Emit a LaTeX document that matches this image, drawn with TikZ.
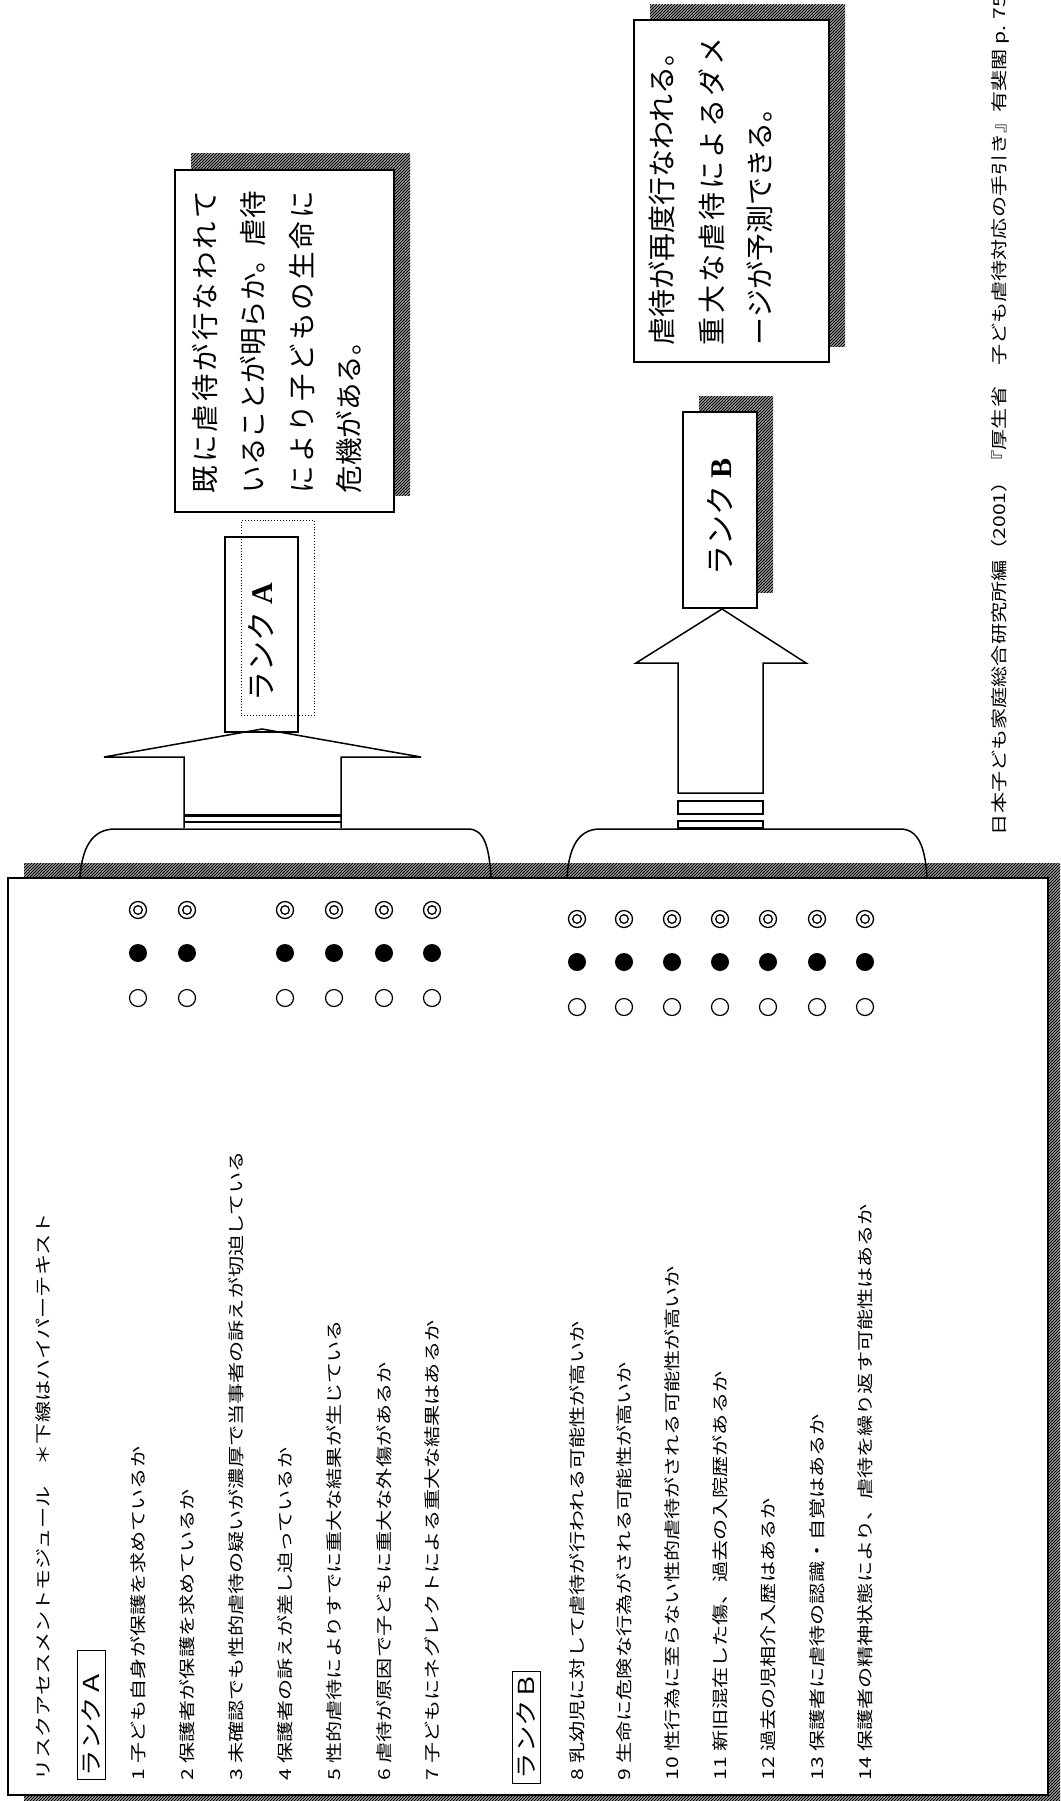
\documentclass[tikz,border=0pt]{standalone}
\usepackage{fontspec}
\usepackage{graphicx}
\setmainfont{Liberation Serif}
\newfontfamily\jp{Noto Sans CJK JP}
\usetikzlibrary{patterns}
\pgfdeclarepatternformonly{darkhatch}{\pgfqpoint{-1pt}{-1pt}}{\pgfqpoint{4pt}{4pt}}{\pgfqpoint{3pt}{3pt}}{%
  \pgfsetlinewidth{1.1pt}%
  \pgfpathmoveto{\pgfqpoint{0pt}{0pt}}%
  \pgfpathlineto{\pgfqpoint{3.1pt}{3.1pt}}%
  \pgfusepath{stroke}}
\def\sploop#1{\ifx\relax#1\else#1\hfil\expandafter\sploop\fi}
\newcommand\spreadline[2]{\makebox[#1][s]{\sploop#2\relax\unskip}}
\newcommand\lst[1]{\scalebox{1.28}[1]{\fontsize{16.5}{16.5}\selectfont\jp #1}}
\newcommand\cit[1]{\scalebox{1.28}[1]{\fontsize{16.5}{16.5}\selectfont\jp #1}}
\newcommand\lbl[1]{\scalebox{1.2}[1]{\fontsize{22}{22}\selectfont\jp #1}}
\newcommand\cfa{\fontsize{27.5}{27.5}\selectfont\jp}
\newcommand\cfb{\fontsize{28}{28}\selectfont\jp}
\begin{document}
\begin{tikzpicture}[x=1pt,y=-1pt,
  txt/.style={rotate=90,inner sep=0pt,outer sep=0pt},
  boxst/.style={draw,fill=white,line width=1.7pt,inner sep=0pt,outer sep=0pt},
  thinbox/.style={draw,line width=1pt,inner sep=0pt,outer sep=0pt},
  shadow/.style={pattern=darkhatch},
  arrowst/.style={draw,line width=1.5pt,line join=miter},
  tabst/.style={draw,line width=1.5pt},
  ring/.style={circle,draw,line width=1.3pt,minimum size=17pt,inner sep=0pt,
    path picture={\draw[line width=1.3pt] (path picture bounding box.center) circle[radius=4.3pt];}},
  dot/.style={circle,fill,minimum size=18pt,inner sep=0pt},
  hollow/.style={circle,draw,line width=1.2pt,minimum size=17pt,inner sep=0pt}]
\useasboundingbox (0,0) rectangle (1060,1801);
\begin{scope}
\clip (0,0) rectangle (1060,1801);

% ---- main box with shadow
\fill[shadow] (24,863) rectangle (1075,1815);
\node[boxst,line width=1.5pt,minimum width=1040pt,minimum height=917pt,anchor=north west] (main) at (8,878) {};

% ---- tabs
\draw[tabst] (80,877) .. controls (82,848) and (92,829) .. (115,829) -- (468,829)
  .. controls (484,829) and (489,846) .. (491,877);
\draw[tabst] (567,877) .. controls (569,848) and (578,829) .. (600,829) -- (900,829)
  .. controls (918,829) and (925,846) .. (927,877);

% ---- arrow A
\draw[arrowst,fill=white] (184,828) -- (184,757) -- (104,757) -- (262,729) -- (421,757) -- (341,757) -- (341,828);
\draw[line width=3pt] (184,815) -- (341,815);
\draw[line width=1.2pt] (184,822) -- (341,822);

% ---- arrow B
\draw[arrowst,fill=white] (678,793) -- (678,663) -- (636,663) -- (722,609) -- (806,663) -- (763,663) -- (763,793) -- cycle;
\draw[arrowst] (678,801) rectangle (763,814);
\draw[arrowst] (678,821) rectangle (763,828);

% ---- callout A
\fill[shadow] (191,153) rectangle (410,495);
\node[boxst,minimum width=219pt,minimum height=342pt,anchor=north west] (calA) at (175,170) {};
\node[txt,anchor=west] (a1) at (205,493) {\cfa\spreadline{302pt}{既に虐待が行なわれて}};
\node[txt,anchor=west] (a2) at (253,493) {\cfa いることが明らか。虐待};
\node[txt,anchor=west] (a3) at (302,493) {\cfa\spreadline{302pt}{により子どもの生命に}};
\node[txt,anchor=west] (a4) at (349,493) {\cfa 危機がある。};

% ---- rank A
\node[draw,dotted,line width=0.9pt,minimum width=73pt,minimum height=195pt,anchor=north west,inner sep=0pt] (rankAd) at (241,520) {};
\node[boxst,fill=none,minimum width=73pt,minimum height=195pt,anchor=north west] (rankA) at (225,537) {};
\node[txt] (rankAt) at (261.5,642) {\fontsize{30}{30}\selectfont{\jp ランク} \textbf{A}};

% ---- callout B
\fill[shadow] (650,5) rectangle (845,346);
\node[boxst,minimum width=195pt,minimum height=342pt,anchor=north west] (calB) at (634,20) {};
\node[txt,anchor=west] (b1) at (662,345) {\cfb 虐待が再度行なわれる。};
\node[txt,anchor=west] (b2) at (712,345) {\cfb\spreadline{308pt}{重大な虐待によるダメ}};
\node[txt,anchor=west] (b3) at (760,345) {\cfb ージが予測できる。};

% ---- rank B
\fill[shadow] (699,396) rectangle (773,592);
\node[boxst,minimum width=74pt,minimum height=196pt,anchor=north west] (rankB) at (683,412) {};
\node[txt] (rankBt) at (720,517) {\fontsize{30}{30}\selectfont{\jp ランク} \textbf{B}};

% ---- citation
\node[txt,anchor=west] (cite) at (1000,835) {\cit{日本子ども家庭総合研究所編（2001）『厚生省　子ども虐待対応の手引き』有斐閣 p. 75}};

% ---- list
\node[txt,anchor=west] (title) at (43,1780) {\lst{リスクアセスメントモジュール　＊下線はハイパーテキスト}};
\node[thinbox,minimum width=28pt,minimum height=129pt,anchor=north west] (labA) at (77,1650) {};
\node[txt,anchor=west] (labAt) at (91,1776) {\lbl{ランクＡ}};
\node[txt,anchor=west] (i1) at (138,1780) {\lst{1 子ども自身が保護を求めているか}};
\node[txt,anchor=west] (i2) at (187,1780) {\lst{2 保護者が保護を求めているか}};
\node[txt,anchor=west] (i3) at (236,1780) {\lst{3 未確認でも性的虐待の疑いが濃厚で当事者の訴えが切迫している}};
\node[txt,anchor=west] (i4) at (285,1780) {\lst{4 保護者の訴えが差し迫っているか}};
\node[txt,anchor=west] (i5) at (334,1780) {\lst{5 性的虐待によりすでに重大な結果が生じている}};
\node[txt,anchor=west] (i6) at (384,1780) {\lst{6 虐待が原因で子どもに重大な外傷があるか}};
\node[txt,anchor=west] (i7) at (432,1780) {\lst{7 子どもにネグレクトによる重大な結果はあるか}};
\node[thinbox,minimum width=28pt,minimum height=112pt,anchor=north west] (labB) at (512,1671) {};
\node[txt,anchor=west] (labBt) at (526,1779) {\lbl{ランクＢ}};
\node[txt,anchor=west] (i8) at (577,1780) {\lst{8 乳幼児に対して虐待が行われる可能性が高いか}};
\node[txt,anchor=west] (i9) at (624,1780) {\lst{9 生命に危険な行為がされる可能性が高いか}};
\node[txt,anchor=west] (i10) at (672,1780) {\lst{10 性行為に至らない性的虐待がされる可能性が高いか}};
\node[txt,anchor=west] (i11) at (720,1780) {\lst{11 新旧混在した傷、過去の入院歴があるか}};
\node[txt,anchor=west] (i12) at (768,1780) {\lst{12 過去の児相介入歴はあるか}};
\node[txt,anchor=west] (i13) at (817,1780) {\lst{13 保護者に虐待の認識・自覚はあるか}};
\node[txt,anchor=west] (i14) at (865,1780) {\lst{14 保護者の精神状態により、虐待を繰り返す可能性はあるか}};

% ---- marks
\foreach \n/\x in {1/138,2/187,4/285,5/334,6/384,7/432} {
  \node[ring] (r\n) at (\x,910) {};
  \node[dot] (d\n) at (\x,953) {};
  \node[hollow] (h\n) at (\x,998) {};
}
\foreach \n/\x in {8/577,9/624,10/672,11/720,12/768,13/817,14/865} {
  \node[ring] (r\n) at (\x,919) {};
  \node[dot] (d\n) at (\x,962) {};
  \node[hollow] (h\n) at (\x,1007) {};
}
\end{scope}
\end{tikzpicture}
\end{document}
